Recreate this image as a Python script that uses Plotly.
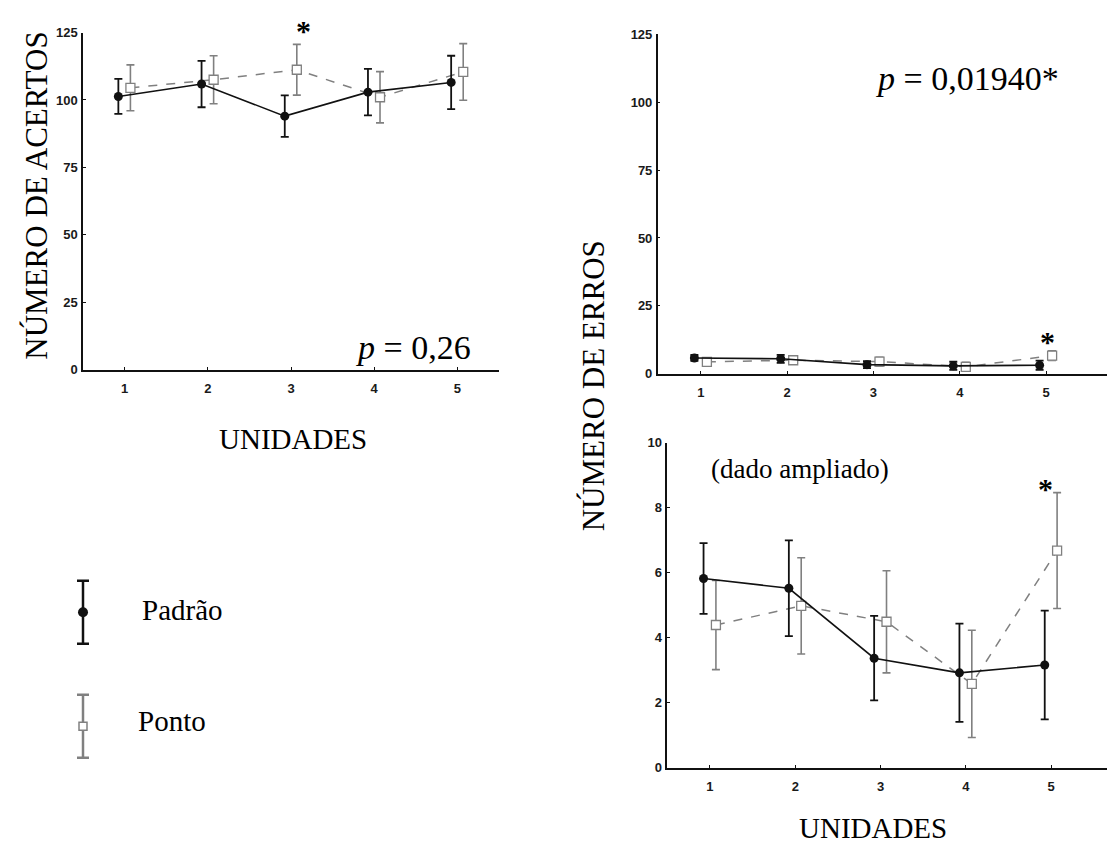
import plotly.graph_objects as go

# ---------------- data ----------------
units = [1, 2, 3, 4, 5]
tick_labels = ["1", "2", "3", "4", "5"]

acertos_padrao = [101.3, 105.9, 94.0, 102.9, 106.5]
acertos_padrao_err = [6.5, 8.6, 7.7, 8.6, 9.9]
acertos_ponto = [104.5, 107.5, 111.2, 101.0, 110.4]
acertos_ponto_err = [8.5, 8.9, 9.4, 9.5, 10.5]

erros_padrao = [5.82, 5.52, 3.37, 2.92, 3.16]
erros_padrao_err = [1.09, 1.47, 1.30, 1.51, 1.67]
erros_ponto = [4.39, 4.98, 4.49, 2.58, 6.68]
erros_ponto_err = [1.37, 1.48, 1.57, 1.65, 1.78]

series_names = ["Padrão", "Ponto"]

# ---------------- styles ----------------
BLACK = "#111111"
GRAY = "#808080"
SERIF = "Liberation Serif"
SANS = "Liberation Sans"
OFF_L = -0.075
OFF_R = 0.07

fig = go.Figure()


def add_pair(xa, ya, yp, ype, yo, yoe, msize=9):
    xl = [u + OFF_L for u in units]
    xr = [u + OFF_R for u in units]
    fig.add_trace(go.Scatter(
        x=xr, y=yo, xaxis=xa, yaxis=ya, mode="lines+markers",
        line=dict(color=GRAY, width=1.5, dash="dash"),
        marker=dict(symbol="square", size=msize, color="white",
                    line=dict(color=GRAY, width=1.3)),
        error_y=dict(type="data", array=yoe, visible=True, color=GRAY,
                     thickness=1.6, width=4),
        showlegend=False, name=series_names[1]))
    fig.add_trace(go.Scatter(
        x=xl, y=yp, xaxis=xa, yaxis=ya, mode="lines+markers",
        line=dict(color=BLACK, width=1.6),
        marker=dict(symbol="circle", size=msize, color=BLACK),
        error_y=dict(type="data", array=ype, visible=True, color=BLACK,
                     thickness=1.8, width=4),
        showlegend=False, name=series_names[0]))


add_pair("x", "y", acertos_padrao, acertos_padrao_err,
         acertos_ponto, acertos_ponto_err)
add_pair("x2", "y2", erros_padrao, erros_padrao_err,
         erros_ponto, erros_ponto_err)
add_pair("x3", "y3", erros_padrao, erros_padrao_err,
         erros_ponto, erros_ponto_err)

# legend glyphs (own invisible axes)
fig.add_trace(go.Scatter(
    x=[0], y=[1], xaxis="x4", yaxis="y4", mode="markers",
    marker=dict(symbol="circle", size=10, color=BLACK),
    error_y=dict(type="data", array=[0.276], visible=True, color=BLACK,
                 thickness=2.5, width=6),
    showlegend=False))
fig.add_trace(go.Scatter(
    x=[0], y=[0], xaxis="x4", yaxis="y4", mode="markers",
    marker=dict(symbol="square", size=8, color="white",
                line=dict(color=GRAY, width=1.5)),
    error_y=dict(type="data", array=[0.276], visible=True, color=GRAY,
                 thickness=2.5, width=6),
    showlegend=False))

tickfont = dict(family=SANS, size=13, color="#1a1a1a", weight="bold")


def xax(domain, rng):
    return dict(domain=domain, range=rng, tickvals=units, ticktext=tick_labels,
                showline=True, linecolor=BLACK, linewidth=1.5,
                ticks="inside", ticklen=3, tickcolor=BLACK,
                showgrid=False, zeroline=False, tickfont=tickfont,
                ticklabelstandoff=6)


def yax(domain, rng, dtick, anchor):
    return dict(domain=domain, range=rng, dtick=dtick, anchor=anchor,
                showline=True, linecolor=BLACK, linewidth=1.5,
                ticks="inside", ticklen=3, tickcolor=BLACK,
                showgrid=False, zeroline=False, tickfont=tickfont,
                ticklabelstandoff=1)


W, H = 1107, 860


def px_x(a, b):
    return [a / W, min(b / W, 1.0)]


def px_y(top, bottom):
    return [(H - bottom) / H, (H - top) / H]


fig.update_layout(
    width=W, height=H, margin=dict(l=0, r=0, t=0, b=0),
    paper_bgcolor="white", plot_bgcolor="white",
    xaxis=dict(**xax(px_x(83, 499), [0.5, 5.5]), anchor="y"),
    yaxis=yax(px_y(26, 369), [0, 125], 25, "x"),
    xaxis2=dict(**xax(px_x(657.7, 1107), [0.5, 5.706]), anchor="y2"),
    yaxis2=yax(px_y(27.7, 373.3), [0, 125], 25, "x2"),
    xaxis3=dict(**xax(px_x(667.3, 1107), [0.5, 5.655]), anchor="y3"),
    yaxis3=yax(px_y(443.3, 774.3), [0, 10], 2, "x3"),
    xaxis4=dict(domain=px_x(60, 106), range=[-1, 1], visible=False, anchor="y4"),
    yaxis4=dict(domain=px_y(545, 805), range=[-0.629, 1.612], visible=False, anchor="x4"),
)

ann = []


def txt(x, y, s, size, family=SERIF, angle=0, color="black"):
    ann.append(dict(xref="paper", yref="paper", x=x / W, y=(H - y) / H,
                    text=s, showarrow=False, textangle=angle,
                    font=dict(family=family, size=size, color=color),
                    xanchor="center", yanchor="middle"))


txt(37, 192, "NÚMERO DE ACERTOS", 31, angle=-90)
txt(593, 386, "NÚMERO DE ERROS", 31, angle=-90)
txt(293, 440, "UNIDADES", 29)
txt(873, 836, "UNIDADES", 29)
txt(413, 347, "<i>p</i> = 0,26", 34)
txt(968, 73, "<i>p</i> = 0,01940*", 34)
txt(800, 470, "(dado ampliado)", 27)
txt(303, 24, "<b>*</b>", 30)
txt(1047, 340, "<b>*</b>", 30)
txt(1045, 490, "<b>*</b>", 30)
txt(182, 614, "Padrão", 29)
txt(172, 727, "Ponto", 29)

fig.update_layout(annotations=ann)

fig.write_html("out.html")
